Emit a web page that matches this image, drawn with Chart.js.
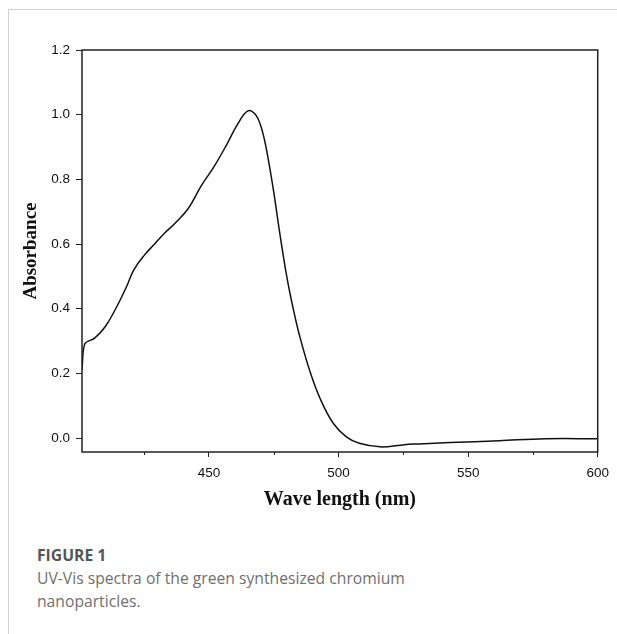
<!DOCTYPE html>
<html lang="en">
<head>
<meta charset="UTF-8">
<title>UV-Vis spectra</title>
<script src="https://cdn.jsdelivr.net/npm/chart.js@4/dist/chart.umd.min.js"></script>
<style>
    body { margin: 0; background: #fff; width: 617px; height: 634px; position: relative; overflow: hidden; }
    .card { position: absolute; left: 8px; top: 9px; right: 0; bottom: 0; border-top: 1px solid #d2d2d2; border-left: 1px solid #d2d2d2; }
    .chart-box { position: absolute; left: 0; top: 0; }
    .caption { position: absolute; left: 37px; top: 544px; font-family: "Open Sans", sans-serif; color: #707070; font-size: 15.7px; line-height: 23px; }
    .caption h4 { margin: 0; font-size: 15.7px; font-weight: 700; color: #555; }
    .caption p { margin: 0; }
</style>
</head>
<body>
<div class="card"></div>
<div class="chart-box">
    <canvas id="myChart" width="617" height="520"></canvas>
</div>
<div class="caption">
    <h4>FIGURE 1</h4>
    <p>UV-Vis spectra of the green synthesized chromium<br>nanoparticles.</p>
</div>
<script>
// spectrum
var wavelengths = [401, 402, 406, 410, 414, 418, 421, 425, 429, 433, 437, 442, 447, 452, 457, 461, 465, 468, 470, 472, 475, 477, 480, 482.5, 485, 489, 493, 498, 503, 508, 516, 524, 527, 531, 543, 562, 580, 600];
var absorbance  = [0.21, 0.29, 0.31, 0.345, 0.40, 0.465, 0.52, 0.565, 0.60, 0.635, 0.665, 0.71, 0.78, 0.84, 0.91, 0.97, 1.012, 1.0, 0.965, 0.90, 0.76, 0.65, 0.50, 0.40, 0.315, 0.205, 0.12, 0.045, 0.004, -0.016, -0.027, -0.022, -0.019, -0.018, -0.014, -0.008, -0.002, -0.002];
var yTicks = [0, 0.2, 0.4, 0.6, 0.8, 1.0, 1.2];
var xTicks = [450, 500, 550, 600];
var xMinorTicks = [425, 475, 525, 575];

var points = wavelengths.map(function(w, i) { return { x: w, y: absorbance[i] }; });

// box round the plot + short minor ticks on x
var framePlugin = {
    id: 'frame',
    afterDraw: function(chart) {
        var c = chart.ctx, a = chart.chartArea, xs = chart.scales.x;
        c.save();
        c.strokeStyle = '#222';
        c.lineWidth = 1.5;
        c.strokeRect(a.left, a.top, a.right - a.left, a.bottom - a.top);
        c.lineWidth = 1;
        xMinorTicks.forEach(function(v) {
            var px = Math.round(xs.getPixelForValue(v)) + 0.5;
            c.beginPath();
            c.moveTo(px, a.bottom);
            c.lineTo(px, a.bottom + 3);
            c.stroke();
        });
        c.restore();
    }
};

var ctx = document.getElementById('myChart').getContext('2d');
var chart = new Chart(ctx, {
    type: 'line',
    data: {
        datasets: [{
            label: 'Absorbance',
            data: points,
            borderColor: '#111',
            borderWidth: 1.5,
            pointRadius: 0,
            fill: false,
            tension: 0.4
        }]
    },
    options: {
        responsive: false,
        animation: false,
        layout: { padding: { left: 16, right: 18, top: 50, bottom: 4 } },
        plugins: { legend: { display: false }, tooltip: { enabled: false } },
        scales: {
            x: {
                type: 'linear',
                min: 401,
                max: 600,
                afterBuildTicks: function(s) { s.ticks = xTicks.map(function(v) { return { value: v }; }); },
                afterFit: function(s) { s.height = 64; },
                border: { display: false },
                grid: { drawOnChartArea: false, drawTicks: true, tickLength: 5, color: '#222' },
                ticks: { color: '#111', padding: 8, maxRotation: 0, font: { family: 'Liberation Sans', size: 13.5 } },
                title: { display: true, text: 'Wave length (nm)', color: '#111', font: { family: 'Liberation Serif', size: 20, weight: 'bold' } }
            },
            y: {
                min: -0.043,
                max: 1.2,
                afterBuildTicks: function(s) { s.ticks = yTicks.map(function(v) { return { value: v }; }); },
                afterFit: function(s) { s.width = 66; },
                border: { display: false },
                grid: { drawOnChartArea: false, drawTicks: true, tickLength: 6, color: '#222' },
                ticks: { color: '#111', padding: 6, font: { family: 'Liberation Sans', size: 13.5 }, callback: function(v) { return v.toFixed(1); } },
                title: { display: true, text: 'Absorbance', color: '#111', font: { family: 'Liberation Serif', size: 19, weight: 'bold' } }
            }
        }
    },
    plugins: [framePlugin]
});
</script>
</body>
</html>
